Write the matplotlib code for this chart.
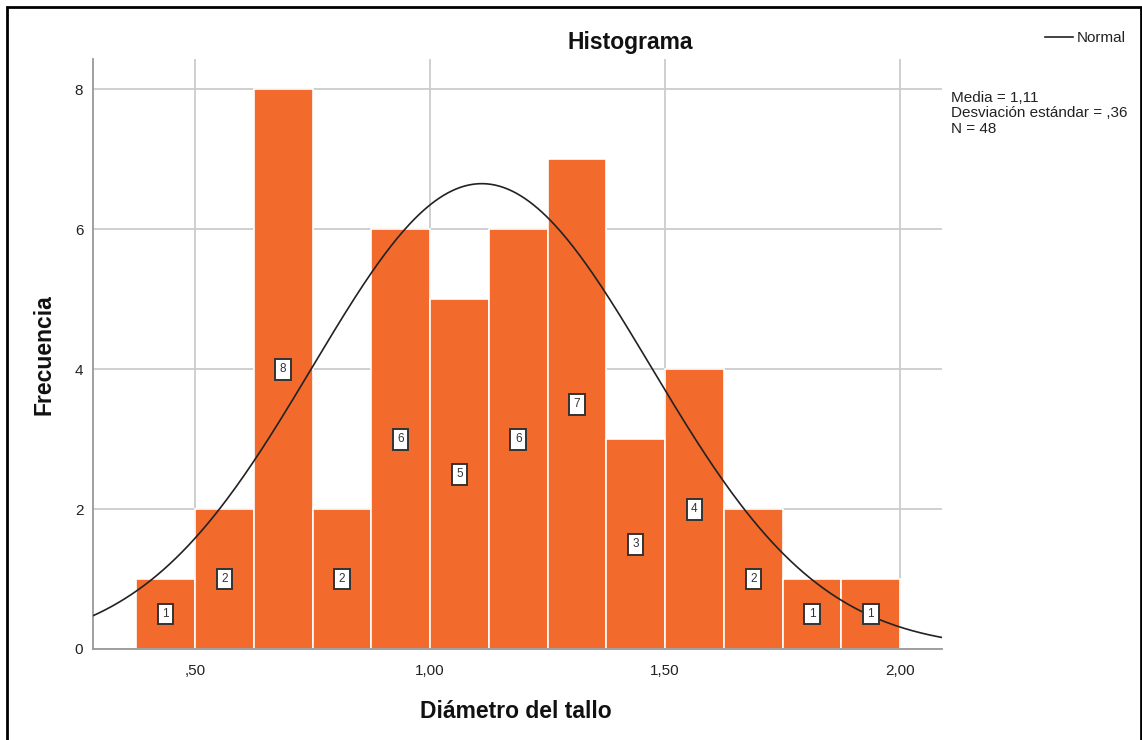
import numpy as np
import matplotlib
matplotlib.use("Agg")
import matplotlib.pyplot as plt
from matplotlib.patches import Rectangle

plt.rcParams['font.family'] = ['Liberation Sans', 'DejaVu Sans']

# Data
bin_edges = [0.375, 0.500, 0.625, 0.750, 0.875, 1.000, 1.125, 1.250,
             1.375, 1.500, 1.625, 1.750, 1.875, 2.000]
counts = [1, 2, 8, 2, 6, 5, 6, 7, 3, 4, 2, 1, 1]
mean_val = 1.11
sd_val = 0.36
n_val = 48
x_ticks = [0.5, 1.0, 1.5, 2.0]
x_ticklabels = [",50", "1,00", "1,50", "2,00"]
y_ticks = [0, 2, 4, 6, 8]
title = "Histograma"
xlabel = "Diámetro del tallo"
ylabel = "Frecuencia"
stats_text = "Media = 1,11\nDesviación estándar = ,36\nN = 48"

W, H = 1142, 740
fig = plt.figure(figsize=(W / 100, H / 100), dpi=100)
ax = fig.add_axes([93 / W, 1 - 649 / H, (942 - 93) / W, (649 - 59) / H])

bar_color = "#F26A2C"
edges = np.array(bin_edges)
widths = np.diff(edges)
ax.bar(edges[:-1], counts, width=widths, align="edge", color=bar_color,
       edgecolor="white", linewidth=1.2, zorder=2)

for left, w, c in zip(edges[:-1], widths, counts):
    ax.text(left + w / 2, c / 2, str(c), ha="center", va="center",
            fontsize=8.5, color="#333333", zorder=4,
            bbox=dict(boxstyle="square,pad=0.38", facecolor="white",
                      edgecolor="#333333", linewidth=1.4))

# Normal curve
xlim = (0.283, 2.089)
xs = np.linspace(xlim[0], xlim[1], 400)
bw = widths[0]
ys = n_val * bw / (sd_val * np.sqrt(2 * np.pi)) * np.exp(-0.5 * ((xs - mean_val) / sd_val) ** 2)
ax.plot(xs, ys, color="#222222", linewidth=1.2, zorder=3)

ax.set_xlim(*xlim)
ax.set_ylim(0, 8.43)
ax.set_xticks(x_ticks)
ax.set_xticklabels(x_ticklabels)
ax.set_yticks(y_ticks)
ax.tick_params(axis="both", length=0, labelsize=11, colors="#222222")
ax.tick_params(axis="x", pad=11)
ax.tick_params(axis="y", pad=7)
ax.grid(True, color="#cccccc", linewidth=1.3, zorder=0)
ax.set_axisbelow(True)
for s in ["top", "right"]:
    ax.spines[s].set_visible(False)
for s in ["left", "bottom"]:
    ax.spines[s].set_color("#999999")
    ax.spines[s].set_linewidth(1.3)

fig.text(630 / W, 1 - 42 / H, title, ha="center", va="center",
         fontsize=16.5, fontweight="bold", color="#111111")
fig.text(516 / W, 1 - 711 / H, xlabel, ha="center", va="center",
         fontsize=16.5, fontweight="bold", color="#111111")
fig.text(44 / W, 1 - 355 / H, ylabel, ha="center", va="center", rotation=90,
         fontsize=16.5, fontweight="bold", color="#111111")

# Legend
fig.add_artist(plt.Line2D([1045 / W, 1073 / W], [1 - 37 / H, 1 - 37 / H],
                          color="#222222", linewidth=1.2))
fig.text(1077 / W, 1 - 38 / H, "Normal", ha="left", va="center",
         fontsize=11, color="#222222")
fig.text(951 / W, 1 - 91 / H, stats_text, ha="left", va="top",
         fontsize=11, color="#222222", linespacing=1.12)

# Outer frame
fig.add_artist(Rectangle((7 / W, -0.05), (1141 - 7) / W, 1.05 - 7 / H,
                         transform=fig.transFigure, fill=False,
                         edgecolor="black", linewidth=2))

fig.savefig("out.png", dpi=100)
